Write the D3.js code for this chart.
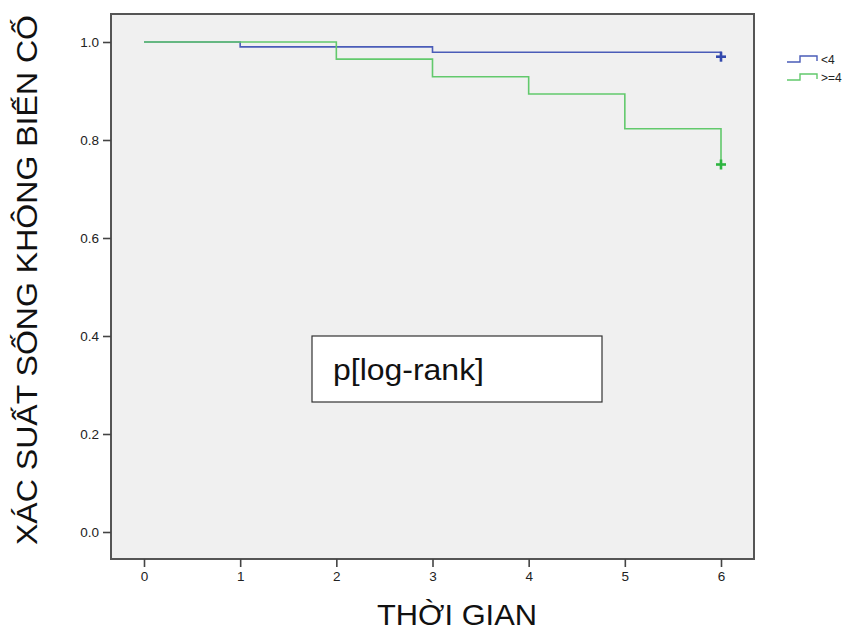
<!DOCTYPE html>
<html>
<head>
<meta charset="utf-8">
<script src="https://cdn.jsdelivr.net/npm/d3@7/dist/d3.min.js"></script>
<style>
  html, body { margin: 0; padding: 0; background: #fff; }
  svg { display: block; font-family: "Liberation Sans", Arial, sans-serif; }
</style>
</head>
<body>
<svg id="chart" width="849" height="631"></svg>
<script>
// ---- data ----
const xTicks = [0, 1, 2, 3, 4, 5, 6];
const yTicks = [0.0, 0.2, 0.4, 0.6, 0.8, 1.0];
const groups = ["<4", ">=4"];
const timesLow = [0, 1, 3, 6];
const survLow = [1.0, 0.990, 0.979, 0.970];
const censorLow = [6];
const censorLowSurv = [0.970];
const timesHigh = [0, 2, 3, 4, 5, 6];
const survHigh = [1.0, 0.965, 0.929, 0.894, 0.823, 0.750];
const censorHigh = [6];
const censorHighSurv = [0.750];
const xTitle = "THỜI GIAN";
const yTitle = "XÁC SUẤT SỐNG KHÔNG BIẾN CỐ";
const boxText = "p[log-rank]";

const colors = { line: ["#4a5cb8", "#62c96c"], mark: ["#3349ad", "#2eb540"] };

const svg = d3.select("#chart");
const frame = { left: 111, top: 14, right: 754, bottom: 559 };

const x = d3.scaleLinear().domain([0, 6]).range([144, 721]);
const y = d3.scaleLinear().domain([0, 1]).range([532, 42]);

// plot background
svg.append("rect")
  .attr("x", frame.left).attr("y", frame.top)
  .attr("width", frame.right - frame.left).attr("height", frame.bottom - frame.top)
  .attr("fill", "#f0f0f0");

const line = d3.line().x(d => x(d.t)).y(d => y(d.s)).curve(d3.curveStepAfter);

const series = [
  { times: timesLow, surv: survLow, ct: censorLow, cs: censorLowSurv },
  { times: timesHigh, surv: survHigh, ct: censorHigh, cs: censorHighSurv }
];

series.forEach((s, i) => {
  const pts = s.times.map((t, k) => ({ t, s: s.surv[k] }));
  svg.append("path")
    .attr("d", line(pts))
    .attr("fill", "none")
    .attr("stroke", colors.line[i])
    .attr("stroke-width", 1.6);
  s.ct.forEach((t, j) => {
    const cx = x(t), cy = y(s.cs[j]);
    const g = svg.append("g").attr("stroke", colors.mark[i]).attr("stroke-width", 2.6);
    g.append("line").attr("x1", cx - 5).attr("x2", cx + 5).attr("y1", cy).attr("y2", cy);
    g.append("line").attr("x1", cx).attr("x2", cx).attr("y1", cy - 5).attr("y2", cy + 5);
  });
});

// frame
svg.append("rect")
  .attr("x", frame.left).attr("y", frame.top)
  .attr("width", frame.right - frame.left).attr("height", frame.bottom - frame.top)
  .attr("fill", "none").attr("stroke", "#555").attr("stroke-width", 2);

// axes
const yAxis = d3.axisLeft(y).tickValues(yTicks).tickFormat(d3.format(".1f")).tickSize(8).tickSizeOuter(0);
const yg = svg.append("g").attr("transform", `translate(${frame.left},0)`).call(yAxis);
yg.select(".domain").remove();
yg.selectAll(".tick line").attr("stroke", "#444").attr("stroke-width", 1.6);
yg.selectAll(".tick text").attr("font-size", 13.5).attr("fill", "#222").attr("font-family", "Liberation Sans, Arial, sans-serif").attr("x", -12);

const xAxis = d3.axisBottom(x).tickValues(xTicks).tickFormat(d3.format("d")).tickSize(8).tickSizeOuter(0);
const xg = svg.append("g").attr("transform", `translate(0,${frame.bottom})`).call(xAxis);
xg.select(".domain").remove();
xg.selectAll(".tick line").attr("stroke", "#444").attr("stroke-width", 1.6);
xg.selectAll(".tick text").attr("font-size", 13.5).attr("fill", "#222").attr("font-family", "Liberation Sans, Arial, sans-serif").attr("y", 12);

// titles
svg.append("text")
  .attr("x", 457).attr("y", 625)
  .attr("text-anchor", "middle")
  .attr("font-size", 29).attr("fill", "#111")
  .attr("textLength", 160).attr("lengthAdjust", "spacingAndGlyphs")
  .text(xTitle);
svg.append("text")
  .attr("transform", "translate(37,280) rotate(-90)")
  .attr("text-anchor", "middle")
  .attr("font-size", 29).attr("fill", "#111")
  .attr("textLength", 530).attr("lengthAdjust", "spacingAndGlyphs")
  .text(yTitle);

// p box
svg.append("rect")
  .attr("x", 312).attr("y", 336).attr("width", 290).attr("height", 66)
  .attr("fill", "#fff").attr("stroke", "#333").attr("stroke-width", 1.2);
svg.append("text")
  .attr("x", 333).attr("y", 380)
  .attr("font-size", 30).attr("fill", "#111")
  .attr("textLength", 151).attr("lengthAdjust", "spacingAndGlyphs")
  .text(boxText);

// legend
groups.forEach((gname, i) => {
  const base = 62 + i * 18;
  svg.append("path")
    .attr("d", `M787,${base} H800 V${base - 6} H817 V${base - 1}`)
    .attr("fill", "none").attr("stroke", colors.line[i]).attr("stroke-width", 1.4);
  svg.append("text")
    .attr("x", 821).attr("y", base + 2)
    .attr("font-size", 12).attr("fill", "#222")
    .text(gname);
});
</script>
</body>
</html>
